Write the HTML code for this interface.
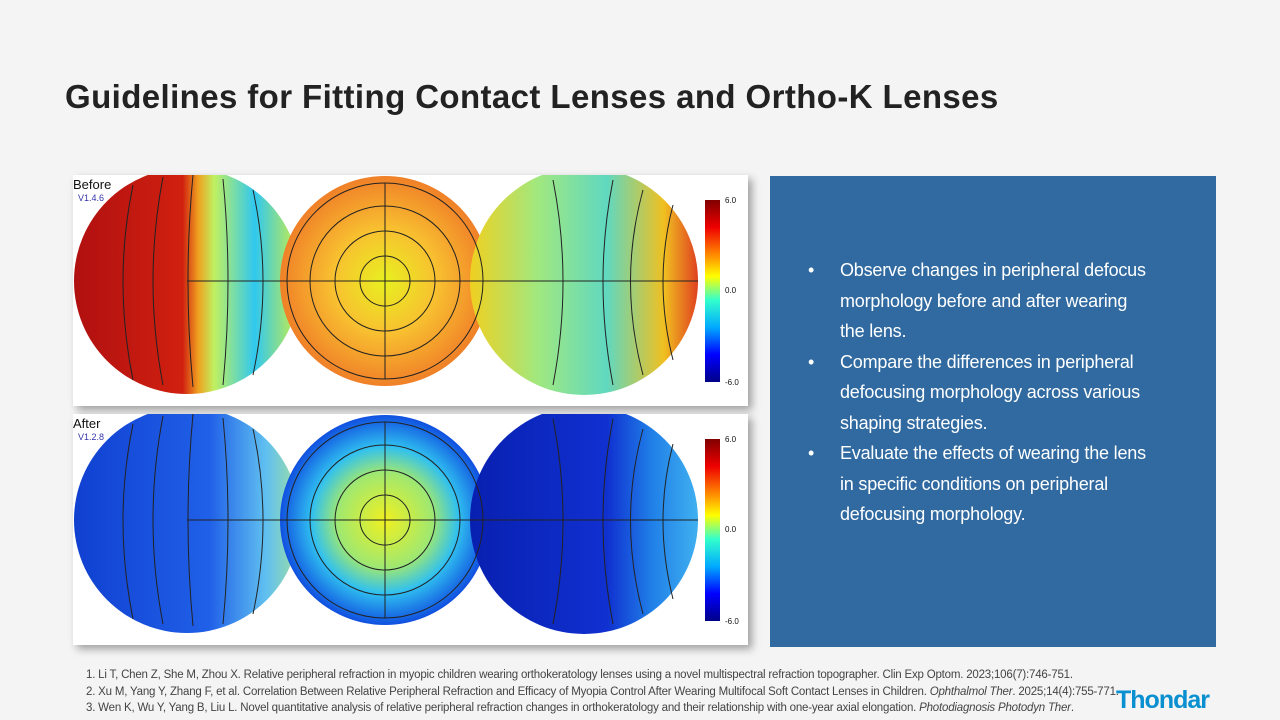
<!DOCTYPE html>
<html><head><meta charset="utf-8"><style>
body{margin:0;width:1280px;height:720px;background:#f4f4f4;font-family:"Liberation Sans",sans-serif;position:relative;overflow:hidden}
h1{position:absolute;left:65px;top:78px;margin:0;font-size:33px;font-weight:bold;color:#222;letter-spacing:0.4px;white-space:nowrap}
.panel{position:absolute;left:770px;top:176px;width:446px;height:471px;background:#306aa0}
.panel ul{margin:0;padding:0;list-style:none;position:absolute;left:38px;top:79px;width:344px;color:#fff;font-size:18px;line-height:30.5px;letter-spacing:-0.2px}
.panel li{position:relative;padding-left:32px}
.panel li:before{content:"•";position:absolute;left:0}
.refs{position:absolute;left:86px;top:667px;font-size:11.5px;color:#444;line-height:16.5px;letter-spacing:-0.2px;white-space:nowrap}
.logo{position:absolute;left:1116px;top:686px;font-size:25px;font-weight:bold;color:#0a90d0;letter-spacing:-1px}
.img{position:absolute;left:73px;width:675px;background:#fff;box-shadow:4px 4px 8px rgba(0,0,0,.35)}
.lab{position:absolute;left:73px;font-size:13px;color:#111}
</style></head><body>
<h1>Guidelines for Fitting Contact Lenses and Ortho-K Lenses</h1>
<svg class="img" style="top:175px;height:231px" viewBox="0 0 675 231">
<defs>
<linearGradient id="cb" x1="0" y1="0" x2="0" y2="1"><stop offset="0" stop-color="#800000"/><stop offset=".15" stop-color="#e00"/><stop offset=".3" stop-color="#f80"/><stop offset=".42" stop-color="#ff0"/><stop offset=".55" stop-color="#3fc"/><stop offset=".7" stop-color="#0af"/><stop offset=".85" stop-color="#00f"/><stop offset="1" stop-color="#008"/></linearGradient>
<linearGradient id="a1" x1="0" y1="0" x2="1" y2="0"><stop offset="0" stop-color="#b01010"/><stop offset=".48" stop-color="#d02010"/><stop offset=".55" stop-color="#f0a020"/><stop offset=".62" stop-color="#c0f060"/><stop offset=".8" stop-color="#30c8f0"/><stop offset="1" stop-color="#d0f040"/></linearGradient>
<radialGradient id="a2"><stop offset="0" stop-color="#e8f020"/><stop offset=".5" stop-color="#f8c030"/><stop offset="1" stop-color="#f08028"/></radialGradient>
<linearGradient id="a3" x1="0" y1="0" x2="1" y2="0"><stop offset="0" stop-color="#f0d020"/><stop offset=".3" stop-color="#a0e880"/><stop offset=".6" stop-color="#60d8c0"/><stop offset=".85" stop-color="#f0c020"/><stop offset="1" stop-color="#e04020"/></linearGradient>
</defs>
<circle cx="114" cy="106" r="113" fill="url(#a1)"/>
<circle cx="312" cy="106" r="105" fill="url(#a2)"/>
<circle cx="511" cy="106" r="114" fill="url(#a3)"/>
<g fill="none" stroke="#222" stroke-width="1">
<circle cx="312" cy="106" r="25"/><circle cx="312" cy="106" r="50"/><circle cx="312" cy="106" r="75"/><circle cx="312" cy="106" r="98"/>
<path d="M312 8V204M214 106H410M114 106H227M398 106H625"/>
<path d="M60 10Q40 106 60 205M90 2Q70 106 90 210M120 0Q110 106 120 212M150 4Q160 106 150 210M180 15Q200 106 180 200M480 5Q500 106 480 210M540 5Q520 106 540 210M570 15Q545 106 570 200M600 30Q580 106 600 185"/>
</g>
<rect x="632" y="25" width="15" height="182" fill="url(#cb)"/>
<g font-size="8" fill="#111"><text x="652" y="28">6.0</text><text x="652" y="118">0.0</text><text x="652" y="210">-6.0</text></g>
<text x="5" y="26" font-size="9" fill="#33a">V1.4.6</text>
</svg>
<svg class="img" style="top:414px;height:231px" viewBox="0 0 675 231">
<defs>
<linearGradient id="cb2" x1="0" y1="0" x2="0" y2="1"><stop offset="0" stop-color="#800000"/><stop offset=".15" stop-color="#e00"/><stop offset=".3" stop-color="#f80"/><stop offset=".42" stop-color="#ff0"/><stop offset=".55" stop-color="#3fc"/><stop offset=".7" stop-color="#0af"/><stop offset=".85" stop-color="#00f"/><stop offset="1" stop-color="#008"/></linearGradient>
<linearGradient id="b1" x1="0" y1="0" x2="1" y2="0"><stop offset="0" stop-color="#1040d0"/><stop offset=".6" stop-color="#2060e8"/><stop offset=".85" stop-color="#60c0f0"/><stop offset="1" stop-color="#a0e0a0"/></linearGradient>
<radialGradient id="b2"><stop offset="0" stop-color="#f0f020"/><stop offset=".45" stop-color="#a0e870"/><stop offset=".7" stop-color="#30c0f0"/><stop offset="1" stop-color="#1050e0"/></radialGradient>
<linearGradient id="b3" x1="0" y1="0" x2="1" y2="0"><stop offset="0" stop-color="#0820b0"/><stop offset=".6" stop-color="#1030d0"/><stop offset=".8" stop-color="#2080e8"/><stop offset="1" stop-color="#40b0f0"/></linearGradient>
</defs>
<circle cx="114" cy="106" r="113" fill="url(#b1)"/>
<circle cx="312" cy="106" r="105" fill="url(#b2)"/>
<circle cx="511" cy="106" r="114" fill="url(#b3)"/>
<g fill="none" stroke="#222" stroke-width="1">
<circle cx="312" cy="106" r="25"/><circle cx="312" cy="106" r="50"/><circle cx="312" cy="106" r="75"/><circle cx="312" cy="106" r="98"/>
<path d="M312 8V204M214 106H410M114 106H227M398 106H625"/>
<path d="M60 10Q40 106 60 205M90 2Q70 106 90 210M120 0Q110 106 120 212M150 4Q160 106 150 210M180 15Q200 106 180 200M480 5Q500 106 480 210M540 5Q520 106 540 210M570 15Q545 106 570 200M600 30Q580 106 600 185"/>
</g>
<rect x="632" y="25" width="15" height="182" fill="url(#cb2)"/>
<g font-size="8" fill="#111"><text x="652" y="28">6.0</text><text x="652" y="118">0.0</text><text x="652" y="210">-6.0</text></g>
<text x="5" y="26" font-size="9" fill="#33a">V1.2.8</text>
</svg>
<div class="lab" style="top:177px">Before</div>
<div class="lab" style="top:416px">After</div>
<div class="panel"><ul>
<li>Observe changes in peripheral defocus morphology before and after wearing the lens.</li>
<li>Compare the differences in peripheral defocusing morphology across various shaping strategies.</li>
<li>Evaluate the effects of wearing the lens in specific conditions on peripheral defocusing morphology.</li>
</ul></div>
<div class="refs">1. Li T, Chen Z, She M, Zhou X. Relative peripheral refraction in myopic children wearing orthokeratology lenses using a novel multispectral refraction topographer. Clin Exp Optom. 2023;106(7):746-751.<br>2. Xu M, Yang Y, Zhang F, et al. Correlation Between Relative Peripheral Refraction and Efficacy of Myopia Control After Wearing Multifocal Soft Contact Lenses in Children. <i>Ophthalmol Ther</i>. 2025;14(4):755-771.<br>3. Wen K, Wu Y, Yang B, Liu L. Novel quantitative analysis of relative peripheral refraction changes in orthokeratology and their relationship with one-year axial elongation. <i>Photodiagnosis Photodyn Ther</i>.</div>
<div class="logo">Thondar</div>
</body></html>
